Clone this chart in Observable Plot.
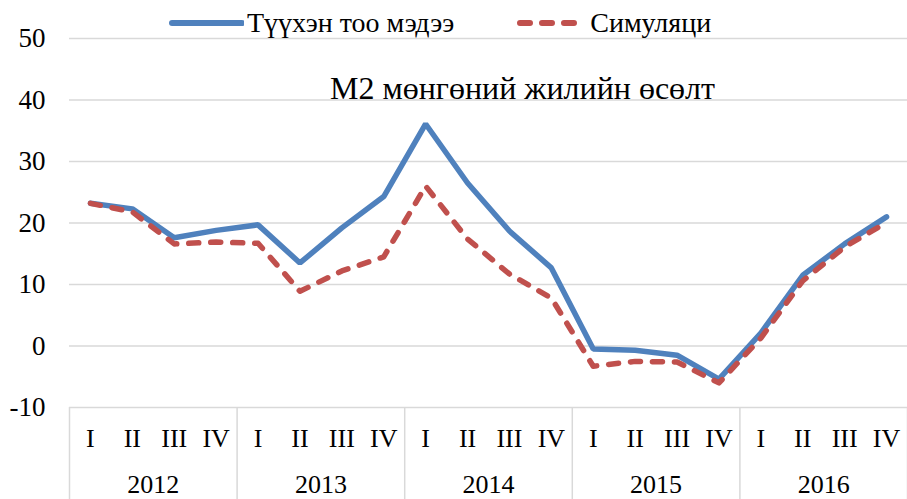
<!DOCTYPE html>
<html>
<head>
<meta charset="utf-8">
<script src="https://cdn.jsdelivr.net/npm/d3@7"></script>
<script src="https://cdn.jsdelivr.net/npm/@observablehq/plot@0.6"></script>
<style>
  html, body { margin: 0; padding: 0; background: #fff; overflow: hidden; }
  #wrap { position: relative; width: 907px; height: 499px; font-family: 'Liberation Serif', 'Times New Roman', serif; }
  #legend { position: absolute; top: 6px; left: 168px; display: flex; align-items: center; font-size: 28px; line-height: 34px; color: #000; }
  #legend .item { display: flex; align-items: center; }
  #legend svg { display: block; }
  #chart svg text { font-family: 'Liberation Serif', 'Times New Roman', serif; }
</style>
</head>
<body>
<div id="wrap">
  <div id="chart"></div>
  <div id="legend"></div>
</div>
<script>
const quarters = ["I", "II", "III", "IV"];
const years = ["2012", "2013", "2014", "2015", "2016"];
const historical = [23.2, 22.3, 17.6, 18.8, 19.7, 13.5, 19.2, 24.3, 36.1, 26.5, 18.7, 12.7, -0.5, -0.7, -1.5, -5.4, 2.1, 11.5, 16.6, 21.0];
const simulation = [23.2, 21.8, 16.6, 16.9, 16.7, 8.9, 12.2, 14.5, 26.0, 17.4, 11.7, 7.8, -3.3, -2.5, -2.6, -6.0, 1.3, 10.6, 16.1, 20.1];
const yTicks = [-10, 0, 10, 20, 30, 40, 50];
const seriesNames = ["Түүхэн тоо мэдээ", "Симуляци"];
const title = "М2 мөнгөний жилийн өсөлт";

const points = [];
years.forEach((yr, yi) => quarters.forEach((q, qi) => {
  const i = yi * 4 + qi;
  points.push({idx: i + 0.5, quarter: q, year: yr, hist: historical[i], sim: simulation[i]});
}));
const yearRows = years.map((yr, yi) => ({year: yr, mid: yi * 4 + 2}));
const bounds = d3.range(0, years.length * 4 + 1, 4);

const blue = "#4f81bd", red = "#c0504d";
const serif = "'Liberation Serif', 'Times New Roman', serif";

const chart = Plot.plot({
  width: 907,
  height: 499,
  marginLeft: 69,
  marginRight: 0,
  marginTop: 38,
  marginBottom: 92,
  style: {fontFamily: serif, fontSize: "26px", color: "#000", background: "#fff"},
  x: {domain: [0, quarters.length * years.length], axis: null},
  y: {domain: [-10, 50], axis: null},
  marks: [
    Plot.gridY(yTicks, {stroke: "#d9d9d9", strokeOpacity: 1, strokeWidth: 1.5}),
    Plot.axisY(yTicks, {tickSize: 0, tickPadding: 24, fontSize: 27, fontFamily: serif, fontVariant: "normal", fill: "#000", tickFormat: d => String(d)}),
    Plot.ruleX(bounds, {y1: -10, y2: -25, stroke: "#d9d9d9", strokeWidth: 1.5}),
    Plot.text(points, {x: "idx", text: "quarter", frameAnchor: "bottom", lineAnchor: "middle", dy: 31, fontSize: 26, fill: "#000"}),
    Plot.text(yearRows, {x: "mid", text: "year", frameAnchor: "bottom", lineAnchor: "middle", dy: 77, fontSize: 26, fill: "#000"}),
    Plot.line(points, {x: "idx", y: "hist", stroke: blue, strokeWidth: 5.5, strokeLinejoin: "miter"}),
    Plot.line(points, {x: "idx", y: "sim", stroke: red, strokeWidth: 5.5, strokeDasharray: "10,12", strokeLinecap: "round"}),
    Plot.text([title], {frameAnchor: "top", lineAnchor: "middle", dx: 34, dy: 50, fontSize: 32, fill: "#000"})
  ]
});
document.getElementById("chart").appendChild(chart);

const legend = document.getElementById("legend");
legend.innerHTML = `
  <div class="item">
    <svg width="76" height="12"><line x1="4" y1="6" x2="74" y2="6" stroke="${blue}" stroke-width="6" stroke-linecap="round"/></svg>
    <span style="margin-left:3px">${seriesNames[0]}</span>
  </div>
  <div class="item" style="margin-left:62px">
    <svg width="68" height="12"><line x1="4" y1="6" x2="66" y2="6" stroke="${red}" stroke-width="6" stroke-linecap="round" stroke-dasharray="10,12"/></svg>
    <span style="margin-left:6px">${seriesNames[1]}</span>
  </div>`;
</script>
</body>
</html>
